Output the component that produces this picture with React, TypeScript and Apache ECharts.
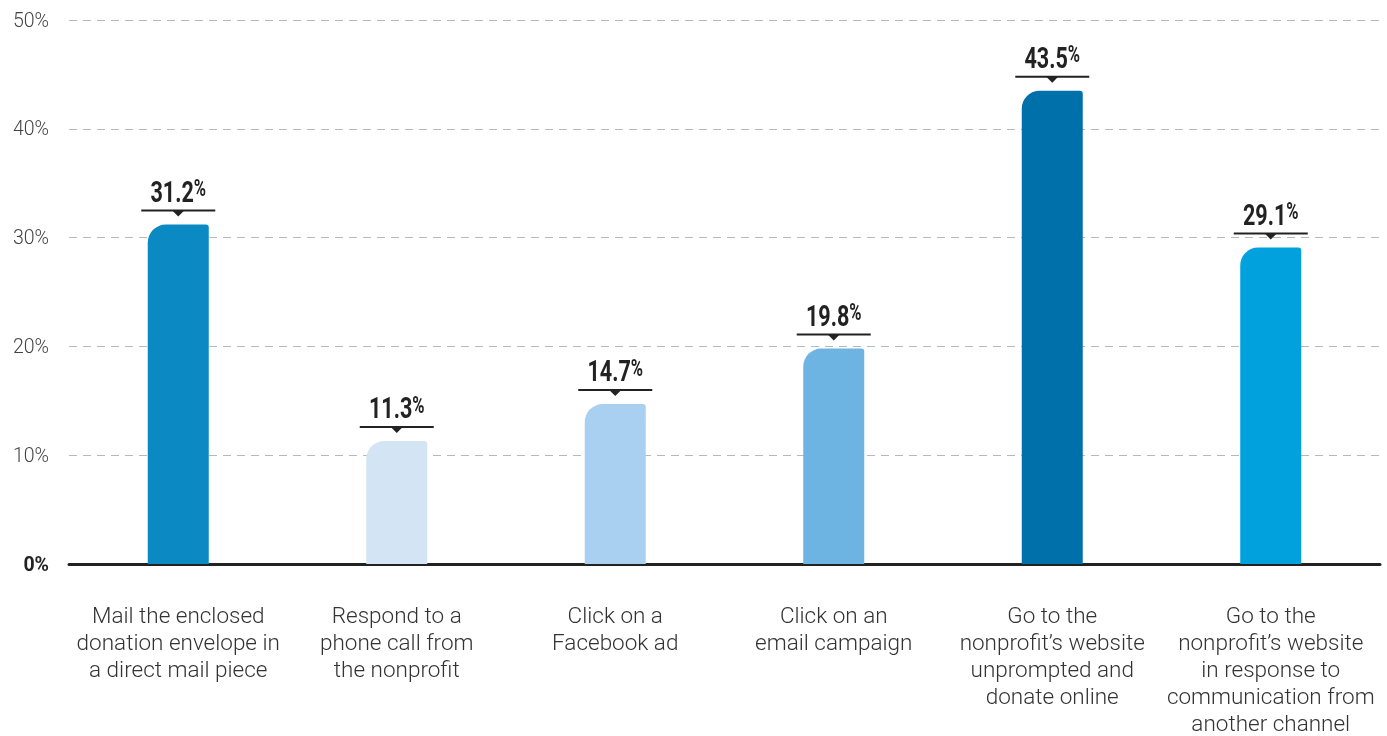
import React, { useEffect, useRef } from "react";
import * as echarts from "echarts";

const categories = [
  "Mail the enclosed\ndonation envelope in\na direct mail piece",
  "Respond to a\nphone call from\nthe nonprofit",
  "Click on a\nFacebook ad",
  "Click on an\nemail campaign",
  "Go to the\nnonprofit’s website\nunprompted and\ndonate online",
  "Go to the\nnonprofit’s website\nin response to\ncommunication from\nanother channel",
];
const values = [31.2, 11.3, 14.7, 19.8, 43.5, 29.1];
const barColors = ["#0a89c3", "#d3e5f5", "#a9d0f0", "#6db4e3", "#0070aa", "#00a1dc"];
const yTicks = [0, 10, 20, 30, 40, 50];

export default function App() {
  const ref = useRef<HTMLDivElement>(null);
  useEffect(() => {
    if (!ref.current) return;
    const chart = echarts.init(ref.current, null, { renderer: "svg" });
    const font = "Roboto, sans-serif";
    chart.setOption({
      animation: false,
      grid: { left: 69, right: 7, top: 20, bottom: 170, containLabel: false },
      xAxis: {
        type: "category",
        data: categories,
        axisLine: { show: true, lineStyle: { color: "#222", width: 3 } },
        axisTick: { show: false },
        axisLabel: {
          interval: 0,
          margin: 37,
          color: "#333",
          fontFamily: font,
          fontWeight: 300,
          fontSize: 22.5,
          lineHeight: 27,
        },
      },
      yAxis: {
        type: "value",
        min: yTicks[0],
        max: yTicks[yTicks.length - 1],
        interval: 10,
        axisLine: { show: false },
        axisTick: { show: false },
        splitLine: {
          show: true,
          lineStyle: { color: "#b4b8c4", type: [8, 6], width: 1 },
        },
        axisLabel: {
          margin: 20,
          fontFamily: font,
          formatter: (v: number) => (v === 0 ? "{z|0%}" : "{n|" + v + "%}"),
          rich: {
            z: { fontSize: 19.5, fontWeight: "bold", color: "#222", fontFamily: font },
            n: { fontSize: 19.5, fontWeight: 300, color: "#444", fontFamily: font },
          },
        },
      },
      series: [
        {
          type: "bar",
          barWidth: 61,
          data: values.map((v, i) => ({
            value: v,
            itemStyle: { color: barColors[i], borderRadius: [18, 3, 0, 0] },
          })),
          z: 2,
        },
        {
          type: "custom",
          z: 5,
          data: values.map((v, i) => [i, v]),
          renderItem: (params: any, api: any) => {
            const pt = api.coord([api.value(0), api.value(1)]);
            const x = pt[0];
            const ly = pt[1] - 14;
            const val = values[params.dataIndex];
            return {
              type: "group",
              children: [
                {
                  type: "line",
                  shape: { x1: x - 37, y1: ly, x2: x + 37, y2: ly },
                  style: { stroke: "#222", lineWidth: 2 },
                },
                {
                  type: "polygon",
                  shape: { points: [[x - 6, ly], [x + 6, ly], [x, ly + 6]] },
                  style: { fill: "#222" },
                },
                {
                  type: "text",
                  x: x,
                  y: ly - 4,
                  scaleX: 0.72,
                  style: {
                    text: "{v|" + val.toFixed(1) + "}{p|%}",
                    align: "center",
                    verticalAlign: "bottom",
                    rich: {
                      v: { fontSize: 30, fontWeight: "bold", fontFamily: font, fill: "#222", lineHeight: 24 },
                      p: { fontSize: 23, fontWeight: "bold", fontFamily: font, fill: "#222", padding: [0, 0, 7, 0] },
                    },
                  },
                },
              ],
            };
          },
        },
      ],
    });
    return () => chart.dispose();
  }, []);
  return (
    <div
      ref={ref}
      style={{ position: "fixed", left: 0, top: 0, width: 1387, height: 736 }}
    />
  );
}
